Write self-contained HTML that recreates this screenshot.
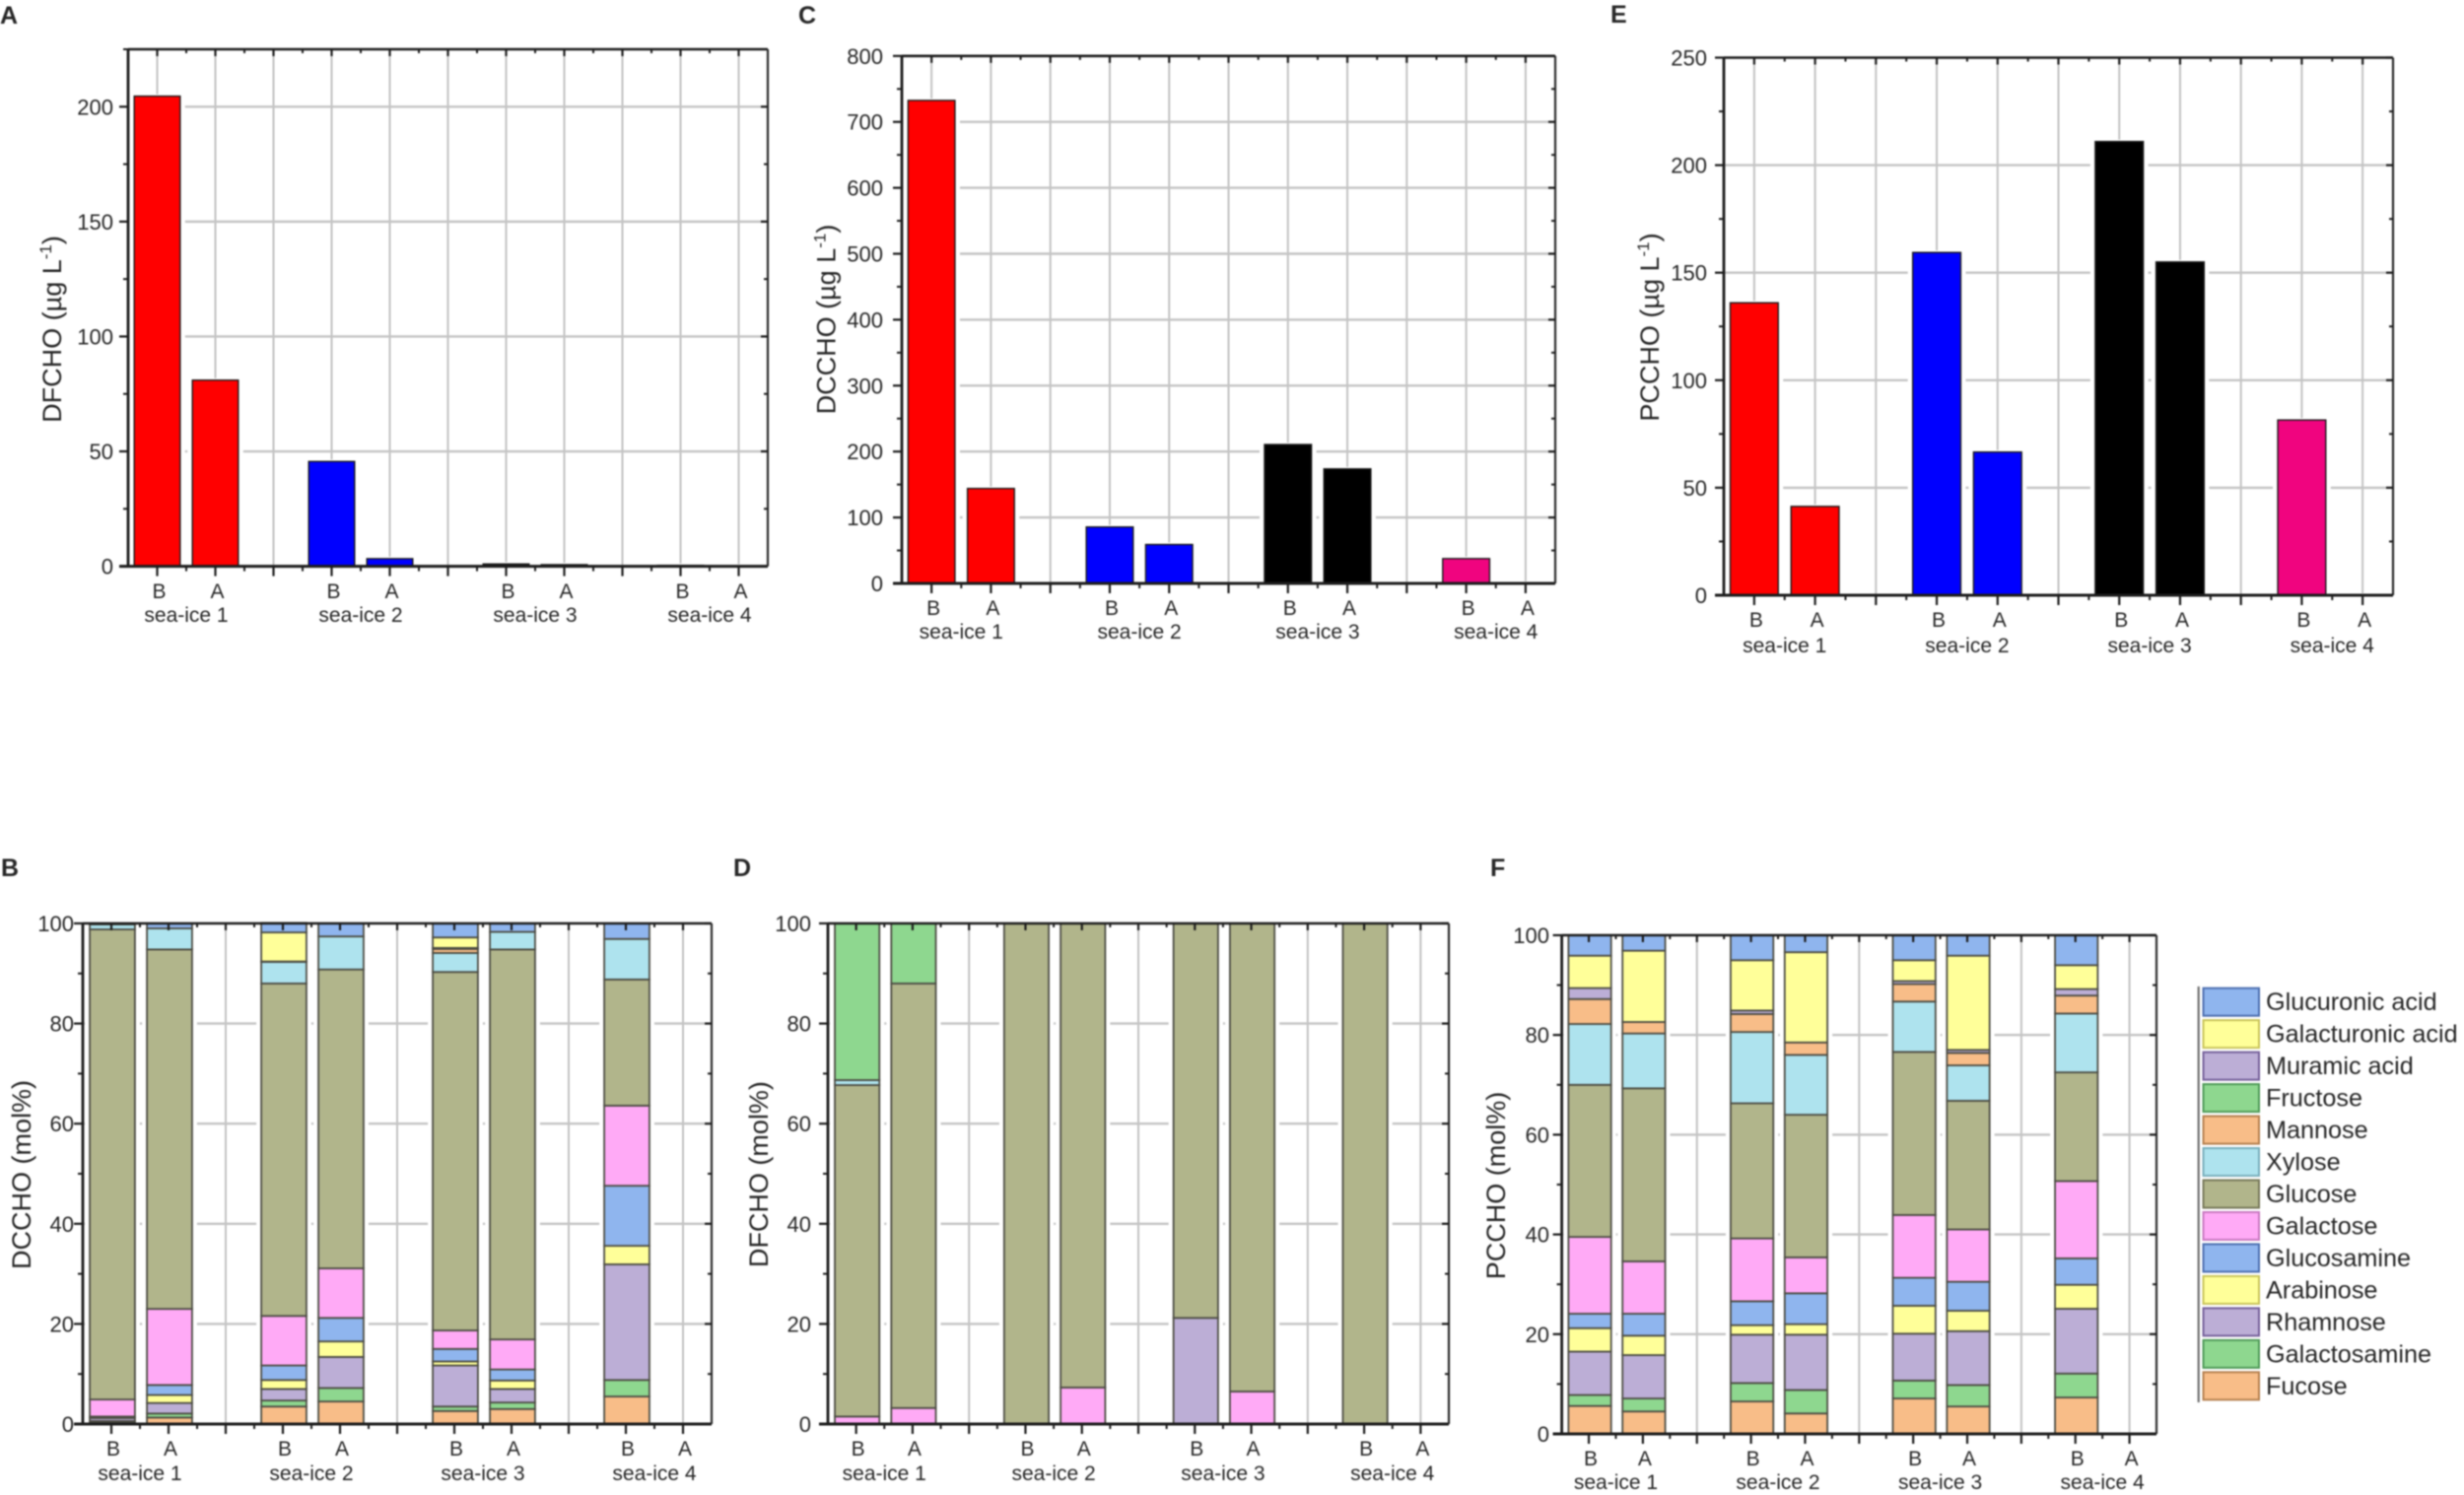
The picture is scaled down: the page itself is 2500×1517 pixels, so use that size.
<!DOCTYPE html>
<html lang="en">
<head>
<meta charset="utf-8">
<title>Carbohydrate concentration and composition in sea-ice</title>
<style>
html,body{margin:0;padding:0;background:#fff;width:2500px;height:1517px;overflow:hidden}
svg{display:block;position:absolute;left:0;top:0}
text{font-family:"Liberation Sans",sans-serif;fill:#262626}
</style>
</head>
<body>
<svg id="figure" xmlns="http://www.w3.org/2000/svg" width="2500" height="1517" viewBox="0 0 2500 1517">
<rect width="2500" height="1517" fill="#ffffff"></rect>
<g id="root" style="filter:blur(0.8px)"></g>
</svg>
<script>
const categories = ['B','A','B','A','B','A','B','A'];
const groupLabels = ['sea-ice 1','sea-ice 2','sea-ice 3','sea-ice 4'];
const groupColors = ['#ff0000','#0000ff','#000000','#f0047f'];

const dfchoValues = [204.6, 81, 45.6, 3.3, 1, 0.7, 0.4, 0.1];
const dcchoValues = [732.6, 144, 85.6, 59, 210.7, 173.7, 37.6, 0];
const pcchoValues = [136, 41.3, 159.4, 66.6, 211, 155, 81.5, 0];

const dfchoTicks = [0, 50, 100, 150, 200];
const dcchoTicks = [0, 100, 200, 300, 400, 500, 600, 700, 800];
const pcchoTicks = [0, 50, 100, 150, 200, 250];
const percentTicks = [0, 20, 40, 60, 80, 100];

const sugarNames = ['Fucose','Galactosamine','Rhamnose','Arabinose','Glucosamine','Galactose','Glucose','Xylose','Mannose','Fructose','Muramic acid','Galacturonic acid','Glucuronic acid'];
const sugarFills = ['#f8bd88','#8ed78f','#bcaed6','#ffff99','#8fb5ee','#ffaaf6','#b1b58b','#aee3ee','#f8bd88','#8ed78f','#bcaed6','#ffff99','#8fb5ee'];
const sugarEdges = ['#b5804f','#4f9a58','#75609a','#c9c45a','#4d6fb0','#c878c0','#77795a','#78aebb','#b5804f','#4f9a58','#75609a','#c9c45a','#4d6fb0'];

const dcchoFucose = [0.3, 1.3, 3.5, 4.5, 2.6, 3.0, 5.5, 0];
const dcchoGalactosamine = [0.3, 0.8, 1.2, 2.7, 0.9, 1.3, 3.3, 0];
const dcchoRhamnose = [0.6, 2.1, 2.3, 6.2, 8.2, 2.7, 23.1, 0];
const dcchoArabinose = [0, 1.6, 1.8, 3.1, 0.8, 1.7, 3.7, 0];
const dcchoGlucosamine = [0.3, 2.0, 2.9, 4.7, 2.5, 2.2, 12.0, 0];
const dcchoGalactose = [3.4, 15.2, 9.9, 9.9, 3.7, 6.0, 16.0, 0];
const dcchoGlucose = [93.9, 71.8, 66.4, 59.7, 71.6, 77.9, 25.2, 0];
const dcchoXylose = [1.0, 4.2, 4.3, 6.6, 3.8, 3.5, 8.1, 0];
const dcchoMannose = [0, 0, 0.1, 0, 0.8, 0, 0, 0];
const dcchoFructose = [0, 0, 0, 0, 0, 0, 0, 0];
const dcchoMuramic = [0, 0, 0, 0, 0.2, 0, 0, 0];
const dcchoGalacturonic = [0, 0, 5.8, 0, 2.1, 0, 0, 0];
const dcchoGlucuronic = [0.2, 1.0, 1.9, 2.6, 2.8, 1.7, 3.1, 0];

const dfchoFucose = [0, 0, 0, 0, 0, 0, 0, 0];
const dfchoGalactosamine = [0, 0, 0, 0, 0, 0, 0, 0];
const dfchoRhamnose = [0, 0, 0, 0, 21.2, 0, 0, 0];
const dfchoArabinose = [0, 0, 0, 0, 0, 0, 0, 0];
const dfchoGlucosamine = [0, 0, 0, 0, 0, 0, 0, 0];
const dfchoGalactose = [1.5, 3.2, 0, 7.3, 0, 6.5, 0, 0];
const dfchoGlucose = [66.2, 84.8, 100, 92.7, 78.8, 93.5, 100, 0];
const dfchoXylose = [1.0, 0, 0, 0, 0, 0, 0, 0];
const dfchoMannose = [0, 0, 0, 0, 0, 0, 0, 0];
const dfchoFructose = [31.3, 12.0, 0, 0, 0, 0, 0, 0];
const dfchoMuramic = [0, 0, 0, 0, 0, 0, 0, 0];
const dfchoGalacturonic = [0, 0, 0, 0, 0, 0, 0, 0];
const dfchoGlucuronic = [0, 0, 0, 0, 0, 0, 0, 0];

const pcchoFucose = [5.6, 4.5, 6.5, 4.1, 7.1, 5.5, 7.3, 0];
const pcchoGalactosamine = [2.2, 2.6, 3.7, 4.7, 3.6, 4.3, 4.8, 0];
const pcchoRhamnose = [8.7, 8.7, 9.7, 11.1, 9.4, 10.8, 13.0, 0];
const pcchoArabinose = [4.7, 3.9, 1.9, 2.1, 5.6, 4.1, 4.8, 0];
const pcchoGlucosamine = [2.9, 4.4, 4.8, 6.2, 5.6, 5.8, 5.3, 0];
const pcchoGalactose = [15.4, 10.5, 12.6, 7.2, 12.6, 10.5, 15.5, 0];
const pcchoGlucose = [30.5, 34.7, 27.1, 28.6, 32.7, 25.8, 21.8, 0];
const pcchoXylose = [12.2, 11.0, 14.3, 12.0, 10.1, 7.1, 11.8, 0];
const pcchoMannose = [5.0, 2.3, 3.6, 2.5, 3.5, 2.5, 3.6, 0];
const pcchoFructose = [0, 0, 0, 0, 0, 0, 0, 0];
const pcchoMuramic = [2.2, 0, 0.7, 0, 0.6, 0.6, 1.3, 0];
const pcchoGalacturonic = [6.5, 14.3, 10.1, 18.1, 4.2, 18.9, 4.8, 0];
const pcchoGlucuronic = [4.1, 3.1, 5.0, 3.4, 5.0, 4.1, 6.0, 0];

const dcchoStack = [dcchoFucose, dcchoGalactosamine, dcchoRhamnose, dcchoArabinose, dcchoGlucosamine, dcchoGalactose, dcchoGlucose, dcchoXylose, dcchoMannose, dcchoFructose, dcchoMuramic, dcchoGalacturonic, dcchoGlucuronic];
const dfchoStack = [dfchoFucose, dfchoGalactosamine, dfchoRhamnose, dfchoArabinose, dfchoGlucosamine, dfchoGalactose, dfchoGlucose, dfchoXylose, dfchoMannose, dfchoFructose, dfchoMuramic, dfchoGalacturonic, dfchoGlucuronic];
const pcchoStack = [pcchoFucose, pcchoGalactosamine, pcchoRhamnose, pcchoArabinose, pcchoGlucosamine, pcchoGalactose, pcchoGlucose, pcchoXylose, pcchoMannose, pcchoFructose, pcchoMuramic, pcchoGalacturonic, pcchoGlucuronic];

const NS = 'http://www.w3.org/2000/svg';
const root = document.getElementById('root');

function make(tag, parent) {
  const el = document.createElementNS(NS, tag);
  parent.appendChild(el);
  return el;
}
function setAll(el, attrs) {
  Object.keys(attrs).forEach(function (k) { el.setAttribute(k, attrs[k]); });
  return el;
}
function line(parent, x1, y1, x2, y2, color, width, name) {
  const el = setAll(make('line', parent), {x1: x1, y1: y1, x2: x2, y2: y2, stroke: color, 'stroke-width': width});
  
  
  return el;
}
function label(parent, x, y, str, size, anchor, name, weight) {
  const el = setAll(make('text', parent), {x: x, y: y, 'font-size': size, 'text-anchor': anchor});
  if (weight) el.setAttribute('font-weight', weight);
  el.textContent = str;
  
  
  return el;
}
function slotOf(i) { return Math.floor(i / 2) * 3 + 1 + (i % 2); }

function panelFrame(p, ticks) {
  const g = make('g', root);
  
  
  p.g = g;
  p.sx = function (slot) { return p.left + (slot - 0.5) * (p.right - p.left) / 11; };
  p.sy = function (v) { return p.bottom - v / p.max * (p.bottom - p.top); };

  for (let s = 1; s <= 11; s++) {
    line(g, p.sx(s), p.top, p.sx(s), p.bottom, '#c2c2c2', 2, p.id + '-vertical-gridline');
  }
  ticks.forEach(function (t) {
    if (t > 0 && t < p.max) line(g, p.left, p.sy(t), p.right, p.sy(t), '#c4c4c4', 2.4, p.id + '-horizontal-gridline');
  });
}

function panelAxes(p, ticks) {
  const g = p.g;
  const ink = '#1c1c1c';
  line(g, p.left, p.top, p.right, p.top, ink, 2.6, p.id + '-top-axis');
  line(g, p.right, p.top, p.right, p.bottom, '#2c2c2c', 2.2, p.id + '-right-axis');
  line(g, p.left, p.top, p.left, p.bottom, ink, 2.8, p.id + '-y-axis');
  line(g, p.left - 9, p.bottom, p.right, p.bottom, ink, 3, p.id + '-x-axis');

  ticks.forEach(function (t, i) {
    const y = p.sy(t);
    line(g, p.left - 9, y, p.left, y, ink, 2.2, p.id + '-y-tick');
    line(g, p.right - 7, y, p.right, y, ink, 2.2, p.id + '-right-tick');
    label(g, p.labelRight, y + 8, String(t), 22, 'end', p.id + '-y-tick-label');
    if (i < ticks.length - 1) {
      const m = p.sy((t + ticks[i + 1]) / 2);
      line(g, p.left - 5, m, p.left, m, ink, 2, p.id + '-y-minor-tick');
      line(g, p.right - 4, m, p.right, m, ink, 2, p.id + '-right-minor-tick');
    }
  });
  if (p.max > ticks[ticks.length - 1]) {
    const m = p.sy(p.max);
    line(g, p.left - 5, m, p.left, m, ink, 2, p.id + '-y-minor-tick');
    line(g, p.right - 4, m, p.right, m, ink, 2, p.id + '-right-minor-tick');
  }
  for (let s = 1; s <= 11; s++) {
    const x = p.sx(s);
    line(g, x, p.bottom, x, p.bottom + 10, ink, 2.2, p.id + '-x-tick');
    line(g, x, p.top, x, p.top + 7, ink, 2.2, p.id + '-top-tick');
  }
  for (let s = 1; s <= 10; s++) {
    const x = p.sx(s + 0.5);
    line(g, x, p.bottom, x, p.bottom + 5, ink, 2, p.id + '-x-minor-tick');
    line(g, x, p.top, x, p.top + 4, ink, 2, p.id + '-top-minor-tick');
  }

  categories.forEach(function (c, i) {
    label(g, p.sx(slotOf(i)) + 2, p.catY, c, 21, 'middle', p.id + '-category-label');
  });
  groupLabels.forEach(function (n, i) {
    label(g, (p.sx(i * 3 + 1) + p.sx(i * 3 + 2)) / 2, p.groupY, n, 21, 'middle', p.id + '-group-label');
  });

  const title = setAll(make('text', g), {x: 0, y: 0, 'font-size': 27, 'text-anchor': 'middle', transform: 'translate(' + (p.titleX + 10) + ',' + p.titleY + ') rotate(-90)'});
  
  
  const t1 = make('tspan', title);
  t1.textContent = p.title;
  if (p.unit) {
    const sup = make('tspan', title);
    setAll(sup, {dy: -10, 'font-size': 17});
    sup.textContent = '-1';
    const t2 = make('tspan', title);
    setAll(t2, {dy: 10});
    t2.textContent = ')';
  }

  label(root, p.letterX, p.letterY, p.letter, 25, 'start', p.id + '-panel-letter', 'bold');
}

function drawSingle(p, values, ticks) {
  panelFrame(p, ticks);
  const step = (p.right - p.left) / 11;
  const w = step * 0.79;
  values.forEach(function (v, i) {
    const x = p.sx(slotOf(i)) - w / 2;
    const y = p.sy(v);
    const h = p.bottom - y;
    const halo = setAll(make('rect', p.g), {x: x - 5, y: y - 2, width: w + 10, height: h + 2, fill: '#ffffff'});
    
    
    const bar = setAll(make('rect', p.g), {x: x, y: y, width: w, height: h, fill: groupColors[Math.floor(i / 2)], stroke: '#1a1a1a', 'stroke-width': 1.4});
    
    
  });
  panelAxes(p, ticks);
}

function drawStack(p, stack, ticks) {
  panelFrame(p, ticks);
  const step = (p.right - p.left) / 11;
  const w = step * 0.79;
  categories.forEach(function (c, i) {
    const x = p.sx(slotOf(i)) - w / 2 + 1;
    let cum = 0;
    const total = stack.reduce(function (a, s) { return a + s[i]; }, 0);
    if (total > 0) {
      const halo = setAll(make('rect', p.g), {x: x - 5, y: p.top, width: w + 10, height: p.bottom - p.top, fill: '#ffffff'});
      
      
    }
    stack.forEach(function (series, s) {
      const v = series[i];
      if (!v) return;
      const y1 = p.sy(cum + v);
      const y0 = p.sy(cum);
      const seg = setAll(make('rect', p.g), {x: x, y: y1, width: w, height: y0 - y1, fill: sugarFills[s], stroke: '#4d4d44', 'stroke-width': 1.8});
      
      
      cum += v;
    });
  });
  panelAxes(p, ticks);
}

drawSingle({id: 'dfcho-total', letter: 'A', letterX: 0, letterY: 24, left: 130, right: 779, top: 50, bottom: 574.6, max: 225, labelRight: 115, catY: 607, groupY: 631, title: 'DFCHO (\u00b5g L', unit: true, titleX: 52, titleY: 334}, dfchoValues, dfchoTicks);
drawSingle({id: 'dccho-total', letter: 'C', letterX: 810, letterY: 24, left: 915, right: 1578, top: 56.8, bottom: 592, max: 800, labelRight: 896, catY: 624, groupY: 648, title: 'DCCHO (\u00b5g L', unit: true, titleX: 837.5, titleY: 324}, dcchoValues, dcchoTicks);
drawSingle({id: 'pccho-total', letter: 'E', letterX: 1634, letterY: 23, left: 1749, right: 2428, top: 58.5, bottom: 604, max: 250, labelRight: 1732, catY: 636, groupY: 662, title: 'PCCHO (\u00b5g L', unit: true, titleX: 1673, titleY: 332}, pcchoValues, pcchoTicks);

drawStack({id: 'dccho-composition', letter: 'B', letterX: 1, letterY: 889, left: 84, right: 722, top: 937, bottom: 1445, max: 100, labelRight: 75, catY: 1477, groupY: 1502, title: 'DCCHO (mol%)', unit: false, titleX: 21, titleY: 1192}, dcchoStack, percentTicks);
drawStack({id: 'dfcho-composition', letter: 'D', letterX: 744, letterY: 889, left: 840, right: 1470, top: 937, bottom: 1445, max: 100, labelRight: 823, catY: 1477, groupY: 1502, title: 'DFCHO (mol%)', unit: false, titleX: 769, titleY: 1191.6}, dfchoStack, percentTicks);
drawStack({id: 'pccho-composition', letter: 'F', letterX: 1512, letterY: 889, left: 1584.6, right: 2188, top: 949, bottom: 1455, max: 100, labelRight: 1572, catY: 1487, groupY: 1511, title: 'PCCHO (mol%)', unit: false, titleX: 1517, titleY: 1203}, pcchoStack, percentTicks);

const legend = make('g', root);


line(legend, 2230.7, 1001, 2230.7, 1423, '#707070', 2.2, 'legend-border');
sugarNames.slice().reverse().forEach(function (name, i) {
  const s = sugarNames.length - 1 - i;
  const top = 1002.7 + i * 32.47;
  const swatch = setAll(make('rect', legend), {x: 2235.5, y: top, width: 56.5, height: 28, fill: sugarFills[s], stroke: sugarEdges[s], 'stroke-width': 2});
  
  
  label(legend, 2299, top + 22.5, name, 25.2, 'start', 'legend-entry');
});
</script>
</body>
</html>
